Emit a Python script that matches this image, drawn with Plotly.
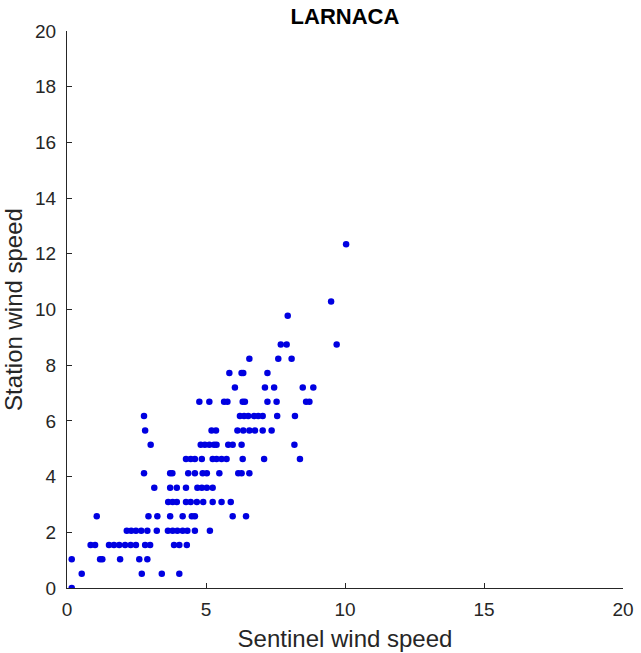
import plotly.graph_objects as go

# Station wind speed levels (quantised) and the Sentinel wind speeds observed at each level
station_levels = [0.0, 0.514, 1.029, 1.543, 2.058, 2.572, 3.087, 3.601, 4.116, 4.630,
                  5.144, 5.659, 6.173, 6.688, 7.202, 7.717, 8.231, 8.746, 9.775, 10.289, 12.347]
sentinel_at_level = [
    [0.17],
    [0.53, 2.69, 3.41, 4.04],
    [0.17, 1.19, 1.27, 1.91, 2.60, 2.89],
    [0.85, 1.01, 1.51, 1.69, 1.88, 2.09, 2.29, 2.48, 2.81, 2.99, 3.85, 4.04, 4.31],
    [2.15, 2.31, 2.48, 2.67, 2.89, 3.23, 3.63, 3.80, 3.97, 4.16, 4.33, 4.60, 5.14],
    [1.07, 2.93, 3.25, 3.71, 4.16, 4.49, 4.60, 5.96, 6.44],
    [3.64, 3.80, 3.95, 4.28, 4.45, 4.67, 4.90, 5.24, 5.56, 5.89],
    [3.14, 3.71, 3.95, 4.28, 4.69, 4.85, 5.03, 5.24],
    [2.77, 3.71, 3.79, 4.36, 4.60, 4.88, 5.03, 5.48, 6.16, 6.28, 6.56],
    [4.28, 4.45, 4.60, 4.85, 5.24, 5.38, 5.56, 5.74, 6.32, 7.09, 8.38],
    [3.01, 4.81, 4.96, 5.12, 5.29, 5.38, 5.80, 5.96, 6.28, 8.18],
    [2.81, 5.20, 5.36, 6.13, 6.34, 6.56, 6.76, 7.04, 7.36],
    [2.77, 6.22, 6.37, 6.52, 6.73, 6.88, 7.04, 7.56, 8.20],
    [4.76, 5.12, 5.65, 5.77, 6.32, 6.40, 7.21, 7.54, 8.60, 8.72],
    [6.04, 7.12, 7.45, 8.48, 8.86],
    [5.84, 6.28, 6.34, 7.21],
    [6.56, 7.60, 8.08],
    [7.69, 7.90, 9.70],
    [7.94],
    [9.50],
    [10.04],
]
x_ticks = [0, 5, 10, 15, 20]
y_ticks = [0, 2, 4, 6, 8, 10, 12, 14, 16, 18, 20]

xs, ys = [], []
for lvl, row in zip(station_levels, sentinel_at_level):
    for v in row:
        xs.append(v)
        ys.append(lvl)

axis_col = "#262626"
font_family = "Liberation Sans, Arial, sans-serif"

fig = go.Figure()
fig.add_trace(go.Scatter(
    x=xs, y=ys, mode="markers",
    marker=dict(size=6.5, color="rgb(0,0,225)", line=dict(width=0)),
    showlegend=False,
))

fig.update_layout(
    width=641, height=653,
    margin=dict(l=67, r=18, t=31, b=65),
    paper_bgcolor="white", plot_bgcolor="white",
    font=dict(family=font_family, color=axis_col),
    title=dict(text="<b>LARNACA</b>", x=345 / 641, xanchor="center",
               y=1 - 16 / 653, yanchor="middle",
               font=dict(size=22, color="black", family=font_family)),
    xaxis=dict(
        range=[0, 20], tickvals=x_ticks, ticks="inside", ticklen=5, tickcolor=axis_col,
        showline=True, linecolor=axis_col, linewidth=1, showgrid=False, zeroline=False,
        tickfont=dict(size=19, color=axis_col), ticklabelstandoff=4, automargin=False,
        title=dict(text="Sentinel wind speed", font=dict(size=24, color=axis_col), standoff=11),
    ),
    yaxis=dict(
        range=[0, 20], tickvals=y_ticks, ticks="inside", ticklen=5, tickcolor=axis_col,
        showline=True, linecolor=axis_col, linewidth=1, showgrid=False, zeroline=False,
        tickfont=dict(size=19, color=axis_col), ticklabelstandoff=6, automargin=False,
        title=dict(text="Station wind speed", font=dict(size=24, color=axis_col), standoff=6),
    ),
)

fig.write_html("out.html")
